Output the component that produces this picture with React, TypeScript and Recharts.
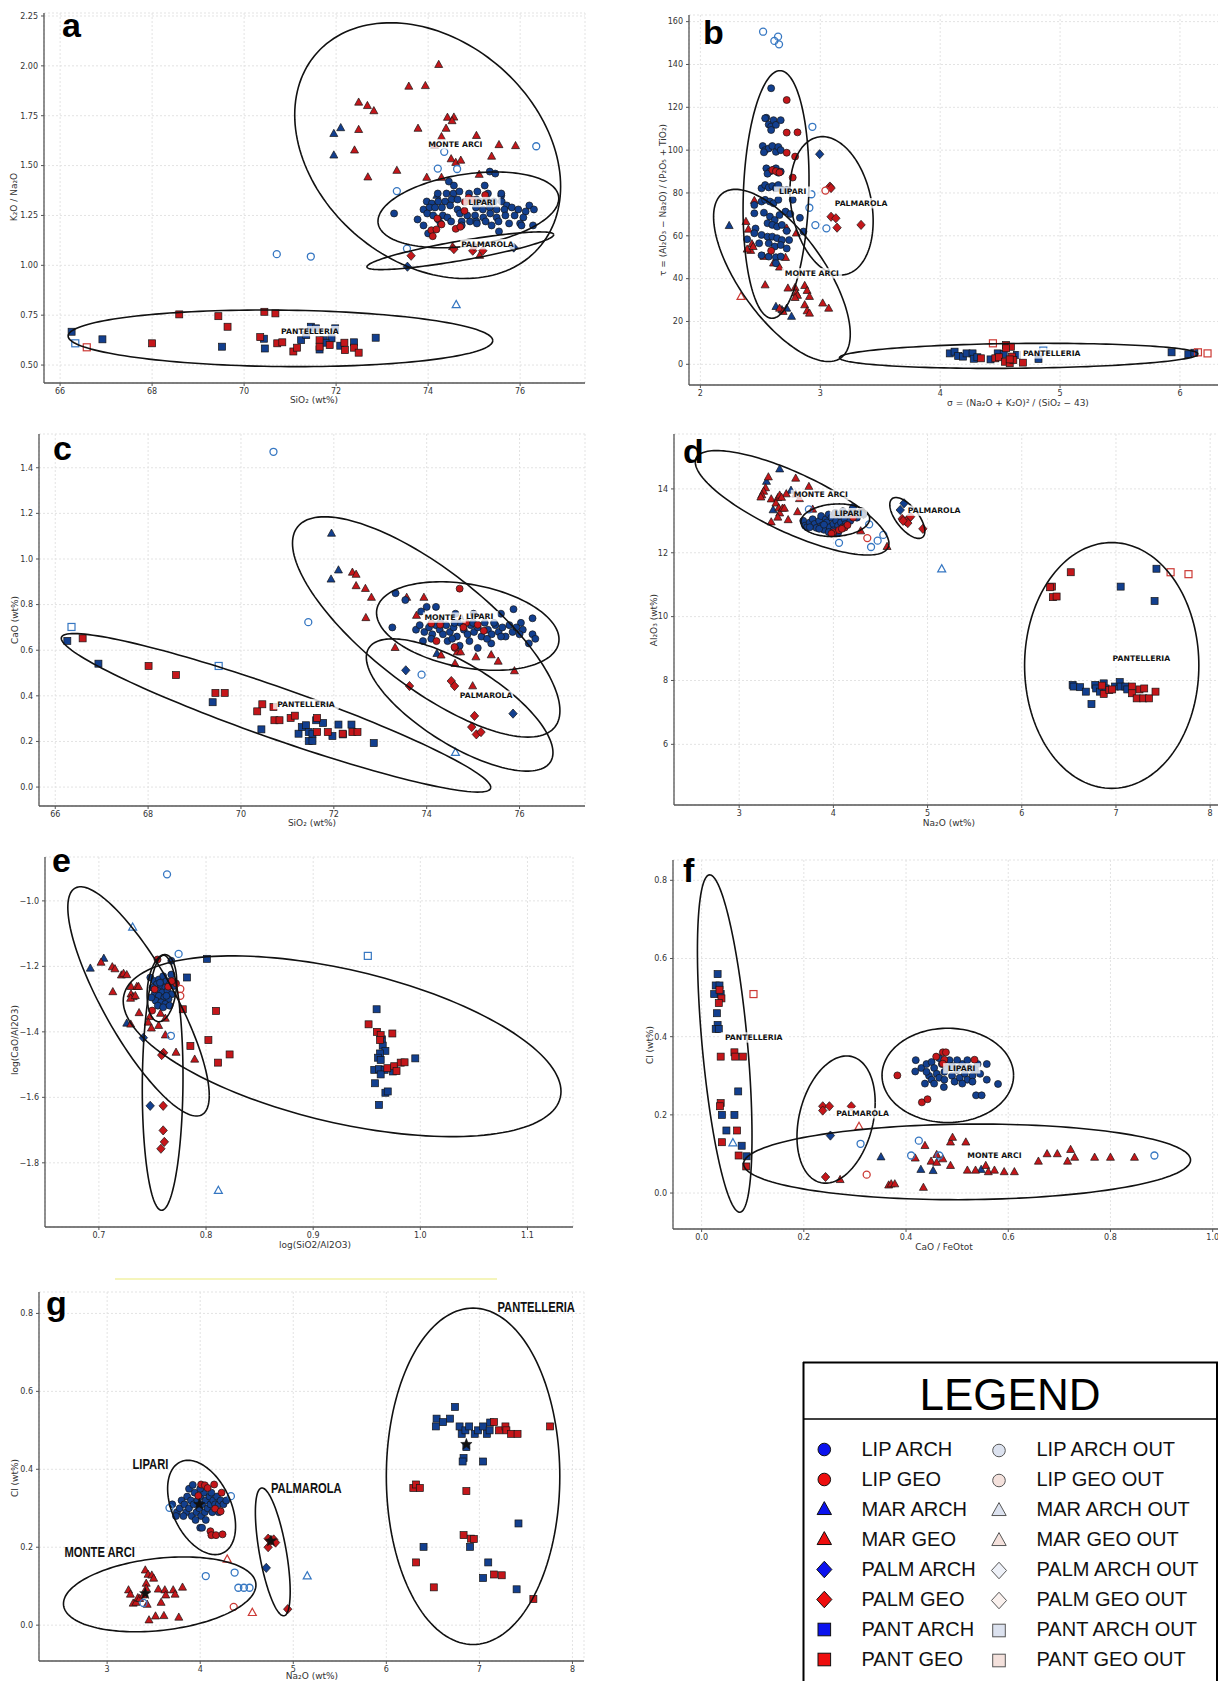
import React from "react";
import { ScatterChart, Scatter, XAxis, YAxis, CartesianGrid } from "recharts";

type Pt = [number, number];
type Ell = [number, number, number, number, number]; // cx, cy, half-width, half-height, sin(phase)
type Lab = [number, number, string, number?];

// ---------- panel a : K2O/Na2O vs SiO2
const aLipArch: Pt[] = [
  [73.26, 1.26], [74.45, 1.42], [74.56, 1.4], [75.23, 1.4], [75.34, 1.47], [75.46, 1.46], [75.59, 1.35],
  [74.21, 1.36], [74.4, 1.36], [74.55, 1.36], [74.68, 1.37], [74.89, 1.36], [75.07, 1.37], [75.3, 1.36], [75.59, 1.36],
  [73.97, 1.32], [74.08, 1.31], [74.22, 1.32], [74.37, 1.32], [74.51, 1.33], [74.64, 1.33], [75.05, 1.33], [75.13, 1.32],
  [75.27, 1.33], [75.43, 1.32], [75.6, 1.32], [75.71, 1.3], [76.2, 1.3], [73.9, 1.28], [74.03, 1.29], [74.15, 1.29],
  [74.3, 1.29], [74.48, 1.3], [74.64, 1.28], [75.04, 1.29], [75.19, 1.28], [75.34, 1.29], [75.49, 1.28], [75.66, 1.28],
  [75.82, 1.29], [75.96, 1.28], [76.12, 1.27], [76.3, 1.28], [73.77, 1.23], [73.98, 1.26], [74.11, 1.25], [74.32, 1.25],
  [74.42, 1.24], [74.69, 1.26], [74.85, 1.25], [75.02, 1.25], [75.2, 1.24], [75.35, 1.26], [75.49, 1.24], [75.68, 1.25],
  [75.88, 1.25], [76.07, 1.24], [76.0, 1.21], [73.9, 1.2], [74.22, 1.23], [74.5, 1.22], [74.73, 1.22], [74.91, 1.22],
  [75.05, 1.22], [75.25, 1.22], [75.53, 1.22], [75.76, 1.21], [76.03, 1.2], [76.28, 1.2], [74.27, 1.21], [74.73, 1.2],
  [75.06, 1.21], [75.38, 1.2], [75.54, 1.17], [74.0, 1.16],
];
const aLipGeo: Pt[] = [
  [74.2, 1.235], [74.07, 1.176], [74.18, 1.18], [74.1, 1.146], [74.29, 1.205], [74.6, 1.183], [74.7, 1.193],
  [74.8, 1.318], [74.79, 1.273], [74.88, 1.339], [75.24, 1.352], [74.97, 1.327],
];
const aMarArch: Pt[] = [[71.95, 1.66], [72.1, 1.689], [71.95, 1.552], [74.19, 1.35]];
const aMarGeo: Pt[] = [
  [72.49, 1.817], [72.68, 1.8], [72.82, 1.774], [72.49, 1.68], [72.4, 1.577], [72.69, 1.442], [73.58, 1.897],
  [73.94, 1.9], [74.23, 2.006], [73.78, 1.686], [74.42, 1.741], [74.56, 1.742], [74.52, 1.724], [74.39, 1.686],
  [74.29, 1.644], [75.05, 1.65], [75.54, 1.604], [75.9, 1.599], [75.38, 1.546], [74.5, 1.533], [74.6, 1.515],
  [74.71, 1.526], [73.32, 1.475], [73.97, 1.44], [74.29, 1.44], [75.11, 1.455], [74.14, 1.6], [74.53, 1.093], [75.12, 1.049],
];
const aPalmArch: Pt[] = [[73.55, 0.993], [75.86, 1.089]];
const aPalmGeo: Pt[] = [[73.63, 1.048], [74.56, 1.081], [74.97, 1.073], [75.19, 1.073], [75.0, 1.096]];
const aPantArch: Pt[] = [
  [66.25, 0.667], [66.92, 0.629], [69.52, 0.592], [70.43, 0.632], [70.45, 0.583], [71.24, 0.625], [71.35, 0.65],
  [71.45, 0.692], [71.56, 0.684], [71.73, 0.625], [71.9, 0.634], [71.98, 0.684], [71.64, 0.578], [72.09, 0.597],
  [72.39, 0.614], [72.86, 0.637], [71.77, 0.612],
];
const aPantGeo: Pt[] = [
  [68.59, 0.754], [69.44, 0.745], [69.64, 0.692], [68.0, 0.609], [70.44, 0.767], [70.68, 0.759], [70.35, 0.64],
  [70.72, 0.609], [70.83, 0.614], [71.07, 0.568], [71.15, 0.587], [71.64, 0.625], [71.64, 0.592], [71.86, 0.6],
  [72.18, 0.612], [72.19, 0.575], [72.39, 0.587], [72.49, 0.562],
];
const aLipArchOut: Pt[] = [
  [70.71, 1.056], [71.45, 1.044], [73.32, 1.372], [74.21, 1.485], [74.63, 1.483], [74.35, 1.569], [76.35, 1.597], [73.54, 1.084],
];
const aMarArchOut: Pt[] = [[74.61, 0.802]];
const aPantArchOut: Pt[] = [[66.33, 0.609]];
const aPantGeoOut: Pt[] = [[66.58, 0.589]];
const aEllipses: Ell[] = [
  [73.99, 1.575, 2.89, 0.641, -0.28],
  [74.875, 1.278, 1.965, 0.19, 0.3],
  [74.7, 1.073, 2.03, 0.0945, 0.85],
  [70.79, 0.634, 4.615, 0.142, -0.08],
];
const aLabels: Lab[] = [
  [74.59, 1.607, "MONTE ARCI"], [75.17, 1.317, "LIPARI"], [75.29, 1.106, "PALMAROLA"], [71.43, 0.67, "PANTELLERIA"],
];

// ---------- panel b : tau vs sigma
const bLipArch: Pt[] = [
  [2.59, 128.9], [2.55, 115.1], [2.54, 114.9], [2.57, 112], [2.59, 111], [2.61, 114], [2.63, 111.8], [2.67, 114], [2.59, 109.4],
  [2.52, 101.9], [2.54, 100], [2.57, 100.8], [2.6, 101.9], [2.63, 99.2], [2.65, 101.5], [2.67, 100], [2.53, 99],
  [2.55, 91.5], [2.58, 90], [2.61, 90.8], [2.63, 91.5], [2.65, 89.5], [2.67, 90], [2.56, 89],
  [2.51, 82.2], [2.54, 83.7], [2.57, 82.6], [2.6, 83.2], [2.63, 82.2], [2.65, 83.7], [2.68, 81.4], [2.72, 81.4],
  [2.51, 76], [2.54, 76.8], [2.58, 76], [2.61, 75.2], [2.65, 76.8], [2.77, 76.8], [2.45, 74.4],
  [2.45, 70.5], [2.53, 70.8], [2.58, 69], [2.62, 67.4], [2.66, 69.7], [2.71, 71.3], [2.56, 65.9], [2.6, 65.1],
  [2.64, 64.3], [2.68, 65.1], [2.75, 70.2], [2.83, 68.4], [2.86, 62.0], [2.46, 63.4], [2.51, 60.4], [2.56, 59.6],
  [2.6, 59.6], [2.64, 58.9], [2.68, 58], [2.39, 58.4], [2.45, 61.2], [2.49, 56.5], [2.57, 56.5], [2.62, 55],
  [2.67, 55.7], [2.72, 54.1], [2.74, 58], [2.51, 50.9], [2.57, 50.3], [2.63, 50], [2.67, 50.3], [2.63, 47.2], [2.72, 62.3],
];
const bLipGeo: Pt[] = [
  [2.72, 123.4], [2.72, 108.2], [2.81, 108.3], [2.72, 98.8], [2.79, 97.0], [2.6, 90.7], [2.63, 90.2], [2.66, 89.6], [2.77, 87.2], [2.59, 53.0],
];
const bMarArch: Pt[] = [[2.24, 64.7], [2.63, 26.9], [2.72, 26.1], [2.76, 22.3], [2.68, 25.4]];
const bMarGeo: Pt[] = [
  [2.38, 66.6], [2.4, 63.0], [2.45, 76.4], [2.43, 56.2], [2.42, 53.1], [2.39, 53.7], [2.44, 54.9], [2.53, 50.3],
  [2.61, 47.2], [2.66, 45.3], [2.71, 49.8], [2.72, 63.5], [2.54, 37.0], [2.73, 35.5], [2.79, 35.8], [2.8, 33.2],
  [2.81, 32.1], [2.79, 31.1], [2.87, 36.7], [2.89, 34.4], [2.91, 31.6], [2.87, 27.7], [3.02, 28.5], [3.07, 26.1],
  [2.89, 24.9], [2.91, 23.8], [2.66, 26.1], [2.69, 24.6], [2.8, 61.2],
];
const bPalmArch: Pt[] = [[2.995, 98.1]];
const bPalmGeo: Pt[] = [[3.08, 83.0], [3.09, 82.3], [3.09, 68.9], [3.13, 68.2], [3.14, 63.8], [3.34, 65.1]];
const bPantArch: Pt[] = [
  [4.08, 5.1], [4.12, 5.9], [4.15, 3.9], [4.19, 3.6], [4.22, 5.1], [4.27, 5.1], [4.28, 2.6], [4.31, 3.3], [4.42, 2.3],
  [4.48, 5.1], [4.53, 4.8], [4.64, 4.4], [4.82, 2.5], [5.93, 5.6], [6.07, 4.7], [6.12, 5.4],
];
const bPantGeo: Pt[] = [
  [4.34, 2.8], [4.46, 2.8], [4.49, 3.3], [4.54, 1.2], [4.58, 0.5], [4.55, 9.0], [4.59, 8.2], [4.55, 7.5], [4.6, 3.6],
  [4.61, 2.0], [4.69, 0.8], [4.58, 2.3],
];
const bLipArchOut: Pt[] = [
  [2.523, 155.3], [2.648, 153.0], [2.617, 151.0], [2.656, 149.4], [2.934, 110.9], [2.926, 79.4], [2.909, 73.1], [2.959, 65.0], [3.051, 63.5],
];
const bLipGeoOut: Pt[] = [[3.043, 81.1]];
const bMarGeoOut: Pt[] = [[2.339, 31.6]];
const bPantArchOut: Pt[] = [[4.86, 6.4]];
const bPantGeoOut: Pt[] = [[4.44, 9.8], [6.15, 5.6], [6.23, 5.1]];
const bEllipses: Ell[] = [
  [2.631, 79.3, 0.275, 57.8, 0.12],
  [2.68, 41.5, 0.57, 40.2, -0.68],
  [3.094, 74.0, 0.347, 32.3, -0.22],
  [4.655, 3.95, 1.495, 5.85, 0.15],
];
const bLabels: Lab[] = [
  [2.77, 80.6, "LIPARI"], [3.34, 75.2, "PALMAROLA"], [2.93, 42.5, "MONTE ARCI"], [4.93, 5.1, "PANTELLERIA"],
];

// ---------- panel c : CaO vs SiO2
const cLipArch: Pt[] = [
  [73.33, 0.85], [73.54, 0.82], [74.0, 0.79], [74.2, 0.79], [73.88, 0.77], [74.62, 0.76], [75.01, 0.76], [75.6, 0.76],
  [75.87, 0.78], [76.28, 0.74], [76.03, 0.72], [76.07, 0.69], [76.28, 0.67], [76.34, 0.65], [76.2, 0.63], [75.39, 0.63],
  [75.1, 0.61], [74.71, 0.62], [74.92, 0.64], [73.26, 0.7], [73.77, 0.69], [73.92, 0.64], [74.45, 0.64],
  [73.85, 0.71], [73.95, 0.68], [74.05, 0.7], [74.12, 0.67], [74.2, 0.71], [74.28, 0.69], [74.35, 0.67], [74.42, 0.71],
  [74.5, 0.68], [74.58, 0.7], [74.65, 0.66], [74.72, 0.72], [74.8, 0.69], [74.88, 0.67], [74.95, 0.71], [75.02, 0.68],
  [75.1, 0.7], [75.18, 0.66], [75.25, 0.72], [75.32, 0.69], [75.4, 0.67], [75.48, 0.71], [75.55, 0.68], [75.63, 0.7],
  [75.7, 0.66], [75.78, 0.71], [75.85, 0.68], [75.93, 0.7], [76.0, 0.67], [74.3, 0.72], [74.6, 0.72], [75.0, 0.72],
  [75.45, 0.72], [74.1, 0.65], [74.55, 0.65], [75.3, 0.65], [75.6, 0.66],
];
const cLipGeo: Pt[] = [
  [74.71, 0.87], [74.61, 0.61], [74.21, 0.64], [74.1, 0.717], [74.29, 0.712], [74.85, 0.72], [74.79, 0.7], [75.1, 0.712],
  [75.23, 0.685], [74.6, 0.614],
];
const cMarArch: Pt[] = [[71.95, 1.112], [72.1, 0.951], [71.94, 0.911], [74.22, 0.585]];
const cMarGeo: Pt[] = [
  [72.4, 0.941], [72.48, 0.932], [72.48, 0.882], [72.68, 0.87], [72.81, 0.831], [72.69, 0.742], [73.32, 0.611],
  [73.57, 0.831], [73.94, 0.831], [73.78, 0.752], [74.31, 0.578], [74.61, 0.541], [74.66, 0.592], [74.73, 0.592],
  [75.06, 0.57], [75.39, 0.579], [75.54, 0.551], [75.89, 0.509], [74.99, 0.443],
];
const cPalmArch: Pt[] = [[73.55, 0.512], [75.86, 0.322]];
const cPalmGeo: Pt[] = [[73.63, 0.443], [74.53, 0.465], [74.6, 0.443], [75.03, 0.312], [74.97, 0.263], [75.07, 0.231], [75.17, 0.241]];
const cPantArch: Pt[] = [
  [66.26, 0.641], [66.93, 0.541], [69.39, 0.372], [70.44, 0.253], [71.24, 0.234], [71.31, 0.263], [71.4, 0.271],
  [71.46, 0.241], [71.46, 0.202], [71.54, 0.202], [71.54, 0.234], [71.62, 0.293], [71.77, 0.281], [71.97, 0.224],
  [72.1, 0.274], [72.38, 0.274], [72.86, 0.193], [72.2, 0.231],
];
const cPantGeo: Pt[] = [
  [66.59, 0.652], [68.01, 0.531], [68.6, 0.491], [69.45, 0.413], [69.65, 0.413], [70.35, 0.332], [70.46, 0.363],
  [70.7, 0.351], [70.72, 0.293], [70.83, 0.293], [71.07, 0.303], [71.16, 0.313], [71.64, 0.303], [71.64, 0.241],
  [71.87, 0.241], [72.19, 0.234], [72.4, 0.241], [72.51, 0.241],
];
const cLipArchOut: Pt[] = [[70.7, 1.47], [71.45, 0.723], [73.89, 0.493]];
const cMarArchOut: Pt[] = [[74.62, 0.151]];
const cPantArchOut: Pt[] = [[66.35, 0.702], [69.52, 0.531]];
const cEllipses: Ell[] = [
  [70.755, 0.3255, 4.625, 0.3475, -0.94],
  [73.99, 0.702, 2.88, 0.483, -0.76],
  [74.885, 0.706, 1.965, 0.194, -0.3],
  [74.71, 0.36, 2.01, 0.29, -0.72],
];
const cLabels: Lab[] = [
  [74.38, 0.743, "MONTE A"], [75.14, 0.749, "LIPARI"], [75.28, 0.4, "PALMAROLA"], [71.4, 0.364, "PANTELLERIA"],
];

// ---------- panel d : Al2O3 vs Na2O
const dLipArch: Pt[] = [
  [3.68, 13.0], [3.7, 12.85], [3.72, 12.8], [3.75, 12.95], [3.78, 13.05], [3.8, 12.9], [3.82, 12.78], [3.85, 13.0],
  [3.87, 13.15], [3.88, 12.85], [3.9, 12.72], [3.92, 13.05], [3.93, 12.95], [3.95, 13.2], [3.96, 12.8], [3.98, 13.1],
  [4.0, 12.9], [4.0, 12.7], [4.02, 13.25], [4.03, 13.0], [4.05, 12.85], [4.07, 13.15], [4.08, 12.95], [4.1, 13.3],
  [4.12, 13.05], [4.13, 12.9], [4.15, 13.2], [4.18, 13.0], [4.2, 13.35], [4.22, 13.15], [4.25, 13.1], [4.28, 13.25],
  [4.3, 13.3], [4.32, 13.2], [3.95, 12.65], [3.85, 12.75], [4.05, 12.62], [3.9, 12.88], [4.1, 12.8], [3.75, 12.8],
  [4.21, 13.43], [4.32, 13.24],
];
const dLipGeo: Pt[] = [[4.0, 12.64], [4.06, 12.71], [4.12, 12.79], [4.15, 12.87], [4.21, 13.1], [3.98, 12.6], [4.09, 12.75]];
const dMarArch: Pt[] = [[3.43, 14.62], [3.29, 14.23], [3.36, 13.34], [3.55, 13.95]];
const dMarGeo: Pt[] = [
  [3.31, 14.37], [3.6, 14.33], [3.74, 14.07], [3.28, 14.03], [3.26, 13.92], [3.24, 13.81], [3.23, 13.74], [3.34, 13.68],
  [3.41, 13.72], [3.43, 13.8], [3.5, 13.84], [3.45, 13.73], [3.39, 13.55], [3.42, 13.4], [3.43, 13.24], [3.46, 13.39],
  [3.48, 13.39], [3.41, 13.11], [3.52, 13.03], [3.34, 12.96], [3.62, 13.28], [3.6, 13.83], [3.78, 13.36], [4.29, 12.68],
  [4.57, 12.19], [3.64, 13.69],
];
const dPalmArch: Pt[] = [[4.75, 13.55], [4.71, 13.34]];
const dPalmGeo: Pt[] = [[4.73, 13.06], [4.77, 12.98], [4.8, 13.08], [4.82, 13.13], [4.79, 12.93], [4.74, 13.0], [4.95, 12.75]];
const dPantArch: Pt[] = [
  [6.54, 7.86], [6.55, 7.81], [6.62, 7.79], [6.68, 7.65], [6.74, 7.26], [6.78, 7.86], [6.79, 7.75], [6.83, 7.65],
  [6.87, 7.91], [6.89, 7.75], [6.99, 7.81], [7.04, 7.95], [7.05, 7.81], [7.1, 7.81], [7.12, 7.72], [7.05, 10.94],
  [7.43, 11.5], [7.41, 10.49],
];
const dPantGeo: Pt[] = [
  [6.32, 10.94], [6.3, 10.92], [6.52, 11.39], [6.33, 10.61], [6.37, 10.63], [6.85, 7.84], [6.87, 7.58], [6.93, 7.7],
  [6.96, 7.72], [7.17, 7.81], [7.17, 7.6], [7.22, 7.44], [7.25, 7.72], [7.3, 7.75], [7.29, 7.44], [7.35, 7.44], [7.42, 7.65],
];
const dLipArchOut: Pt[] = [[3.74, 13.36], [4.06, 12.31], [4.38, 12.89], [4.4, 12.18], [4.47, 12.38], [4.53, 12.56]];
const dLipGeoOut: Pt[] = [[4.36, 12.46]];
const dMarArchOut: Pt[] = [[5.15, 11.49]];
const dPantGeoOut: Pt[] = [[7.58, 11.39], [7.77, 11.33]];
const dEllipses: Ell[] = [
  [3.562, 13.565, 1.028, 1.635, -0.78],
  [4.02, 13.02, 0.365, 0.51, 0.1],
  [4.785, 13.09, 0.186, 0.64, -0.65],
  [6.955, 8.47, 0.925, 3.85, 0],
];
const dLabels: Lab[] = [
  [3.866, 13.81, "MONTE ARCI"], [4.16, 13.24, "LIPARI"], [5.07, 13.32, "PALMAROLA"], [7.27, 8.7, "PANTELLERIA"],
];

// ---------- panel e : log(CaO/Al2O3) vs log(SiO2/Al2O3)
const eLipArch: Pt[] = [
  [0.7676, -1.183], [0.7676, -1.225], [0.748, -1.234], [0.752, -1.245], [0.756, -1.24], [0.76, -1.23], [0.763, -1.245],
  [0.766, -1.255], [0.754, -1.255], [0.758, -1.26], [0.762, -1.265], [0.75, -1.265], [0.755, -1.275], [0.759, -1.28],
  [0.764, -1.275], [0.768, -1.285], [0.752, -1.285], [0.756, -1.29], [0.761, -1.295], [0.765, -1.3], [0.753, -1.305],
  [0.758, -1.31], [0.762, -1.315], [0.755, -1.32], [0.76, -1.325], [0.766, -1.32], [0.749, -1.295], [0.77, -1.26],
  [0.757, -1.25], [0.763, -1.29],
];
const eLipGeo: Pt[] = [[0.7547, -1.179], [0.752, -1.27], [0.7647, -1.262], [0.772, -1.252], [0.7497, -1.335], [0.768, -1.245]];
const eMarArch: Pt[] = [[0.692, -1.206], [0.7046, -1.176], [0.726, -1.374]];
const eMarGeo: Pt[] = [
  [0.702, -1.188], [0.7125, -1.202], [0.715, -1.208], [0.721, -1.227], [0.723, -1.222], [0.726, -1.226], [0.713, -1.278],
  [0.73, -1.262], [0.7354, -1.262], [0.737, -1.262], [0.73, -1.285], [0.732, -1.293], [0.7296, -1.298], [0.734, -1.29],
  [0.7297, -1.377], [0.7375, -1.342], [0.7475, -1.354], [0.746, -1.371], [0.749, -1.389], [0.7558, -1.381],
  [0.7575, -1.344], [0.762, -1.359], [0.762, -1.41], [0.772, -1.463], [0.7894, -1.484],
];
const ePalmArch: Pt[] = [[0.7415, -1.418], [0.7479, -1.626]];
const ePalmGeo: Pt[] = [[0.7604, -1.464], [0.7586, -1.471], [0.76, -1.626], [0.76, -1.701], [0.7611, -1.736], [0.7579, -1.757]];
const ePantArch: Pt[] = [
  [0.8008, -1.177], [0.7822, -1.234], [0.9592, -1.331], [0.9642, -1.423], [0.9649, -1.442], [0.9674, -1.458],
  [0.9624, -1.466], [0.9606, -1.479], [0.963, -1.486], [0.957, -1.516], [0.9614, -1.514], [0.9667, -1.516],
  [0.963, -1.53], [0.9745, -1.521], [0.9577, -1.557], [0.9674, -1.586], [0.9696, -1.582], [0.9614, -1.623], [0.9953, -1.481],
];
const ePantGeo: Pt[] = [
  [0.7783, -1.331], [0.8094, -1.336], [0.8022, -1.425], [0.7854, -1.443], [0.8112, -1.494], [0.822, -1.469],
  [0.9517, -1.377], [0.9595, -1.4], [0.963, -1.41], [0.9624, -1.425], [0.9739, -1.405], [0.9692, -1.511],
  [0.9756, -1.505], [0.9778, -1.52], [0.9817, -1.494], [0.9853, -1.493],
];
const eLipArchOut: Pt[] = [[0.7636, -0.919], [0.7744, -1.162], [0.7672, -1.412]];
const eLipGeoOut: Pt[] = [[0.776, -1.269], [0.776, -1.29]];
const eMarArchOut: Pt[] = [[0.7315, -1.081], [0.8115, -1.885]];
const ePantArchOut: Pt[] = [[0.951, -1.168]];
const eEllipses: Ell[] = [
  [0.737, -1.307, 0.066, 0.35, -0.82],
  [0.7595, -1.5555, 0.019, 0.3895, 0.05],
  [0.7588, -1.2665, 0.0138, 0.1025, 0.2],
  [0.927, -1.444, 0.2043, 0.276, -0.5],
];

// ---------- panel f : Cl vs CaO/FeOtot
const fLipArch: Pt[] = [
  [0.419, 0.34], [0.418, 0.311], [0.437, 0.28], [0.474, 0.271], [0.58, 0.279], [0.558, 0.33], [0.537, 0.25], [0.548, 0.25],
  [0.558, 0.29], [0.43, 0.32], [0.44, 0.33], [0.45, 0.335], [0.455, 0.32], [0.46, 0.305], [0.47, 0.33], [0.445, 0.3],
  [0.45, 0.29], [0.465, 0.295], [0.475, 0.31], [0.48, 0.32], [0.49, 0.3], [0.495, 0.285], [0.5, 0.315], [0.505, 0.295],
  [0.51, 0.33], [0.515, 0.305], [0.52, 0.29], [0.525, 0.32], [0.53, 0.3], [0.535, 0.315], [0.54, 0.33], [0.545, 0.305],
  [0.485, 0.34], [0.465, 0.345], [0.5, 0.34], [0.44, 0.31], [0.455, 0.28], [0.51, 0.28], [0.52, 0.34], [0.49, 0.325],
  [0.475, 0.29], [0.53, 0.285],
];
const fLipGeo: Pt[] = [[0.383, 0.301], [0.431, 0.232], [0.442, 0.24], [0.459, 0.349], [0.472, 0.36], [0.478, 0.36], [0.475, 0.341], [0.472, 0.331], [0.534, 0.341]];
const fMarArch: Pt[] = [[0.351, 0.092], [0.429, 0.06], [0.453, 0.057], [0.547, 0.06]];
const fMarGeo: Pt[] = [
  [0.271, 0.034], [0.366, 0.02], [0.371, 0.023], [0.378, 0.023], [0.434, 0.014], [0.418, 0.089], [0.437, 0.121],
  [0.449, 0.081], [0.46, 0.078], [0.46, 0.098], [0.472, 0.087], [0.487, 0.07], [0.487, 0.13], [0.491, 0.142],
  [0.517, 0.13], [0.52, 0.058], [0.536, 0.058], [0.556, 0.07], [0.561, 0.054], [0.573, 0.058], [0.592, 0.054],
  [0.612, 0.054], [0.659, 0.081], [0.676, 0.1], [0.696, 0.1], [0.716, 0.081], [0.722, 0.111], [0.73, 0.091],
  [0.769, 0.091], [0.8, 0.091], [0.847, 0.091],
];
const fPalmArch: Pt[] = [[0.252, 0.147]];
const fPalmGeo: Pt[] = [[0.237, 0.222], [0.25, 0.222], [0.237, 0.211], [0.293, 0.222], [0.2425, 0.041]];
const fPantArch: Pt[] = [
  [0.0313, 0.56], [0.0276, 0.531], [0.035, 0.531], [0.0246, 0.509], [0.0373, 0.509], [0.0299, 0.46], [0.0313, 0.43],
  [0.0276, 0.42], [0.0336, 0.42], [0.0716, 0.26], [0.0396, 0.2], [0.0642, 0.2], [0.0485, 0.16], [0.0784, 0.121], [0.0881, 0.094],
];
const fPantGeo: Pt[] = [
  [0.035, 0.52], [0.0388, 0.498], [0.0336, 0.486], [0.0373, 0.349], [0.0642, 0.36], [0.0657, 0.349], [0.0806, 0.349],
  [0.0373, 0.23], [0.0358, 0.222], [0.0396, 0.13], [0.0694, 0.16], [0.0724, 0.096], [0.0873, 0.068],
];
const fLipArchOut: Pt[] = [[0.311, 0.126], [0.425, 0.134], [0.41, 0.096], [0.465, 0.096], [0.886, 0.096]];
const fLipGeoOut: Pt[] = [[0.323, 0.047]];
const fMarArchOut: Pt[] = [[0.0612, 0.128]];
const fMarGeoOut: Pt[] = [[0.308, 0.17]];
const fPantGeoOut: Pt[] = [[0.1015, 0.509]];
const fEllipses: Ell[] = [
  [0.0452, 0.3825, 0.0534, 0.4315, -0.55],
  [0.2631, 0.188, 0.0765, 0.1627, 0.27],
  [0.4817, 0.301, 0.1287, 0.1205, 0],
  [0.5194, 0.0797, 0.4373, 0.0967, 0.05],
];
const fLabels: Lab[] = [
  [0.102, 0.398, "PANTELLERIA"], [0.315, 0.204, "PALMAROLA"], [0.509, 0.319, "LIPARI"], [0.573, 0.096, "MONTE ARCI"],
];

// ---------- panel g : Cl vs Na2O
const gLipArch: Pt[] = [
  [3.7, 0.31], [3.75, 0.29], [3.74, 0.28], [3.78, 0.3], [3.8, 0.32], [3.83, 0.31], [3.85, 0.29], [3.86, 0.33], [3.88, 0.3],
  [3.9, 0.32], [3.91, 0.28], [3.93, 0.31], [3.94, 0.34], [3.96, 0.29], [3.97, 0.32], [3.99, 0.3], [4.0, 0.33], [4.01, 0.28],
  [4.02, 0.31], [4.04, 0.34], [4.05, 0.29], [4.06, 0.32], [4.08, 0.3], [4.1, 0.33], [4.11, 0.31], [4.13, 0.29], [4.14, 0.32],
  [4.16, 0.31], [4.18, 0.33], [4.2, 0.31], [4.22, 0.32], [4.25, 0.31], [4.28, 0.32], [3.95, 0.27], [4.0, 0.25], [4.02, 0.25],
  [3.88, 0.35], [4.0, 0.35], [4.06, 0.27], [3.82, 0.28], [3.92, 0.36], [4.12, 0.34], [4.2, 0.29],
];
const gLipGeo: Pt[] = [
  [4.01, 0.361], [4.05, 0.359], [4.15, 0.361], [4.23, 0.34], [4.08, 0.352], [3.98, 0.332], [4.16, 0.299], [4.22, 0.292],
  [4.11, 0.241], [4.12, 0.231], [4.17, 0.231], [4.24, 0.233],
];
const gMarGeo: Pt[] = [
  [3.23, 0.09], [3.25, 0.079], [3.28, 0.056], [3.31, 0.058], [3.33, 0.07], [3.35, 0.068], [3.39, 0.077], [3.41, 0.141],
  [3.44, 0.13], [3.48, 0.128], [3.5, 0.12], [3.42, 0.107], [3.42, 0.094], [3.43, 0.053], [3.45, 0.013], [3.52, 0.023],
  [3.55, 0.092], [3.58, 0.058], [3.61, 0.024], [3.62, 0.09], [3.63, 0.077], [3.71, 0.09], [3.73, 0.079], [3.77, 0.02], [3.81, 0.097],
];
const gPalmArch: Pt[] = [[4.71, 0.147]];
const gPalmGeo: Pt[] = [[4.73, 0.222], [4.76, 0.217], [4.79, 0.22], [4.81, 0.212], [4.73, 0.2], [4.94, 0.041]];
const gPantArch: Pt[] = [
  [6.532, 0.51], [6.54, 0.53], [6.61, 0.521], [6.684, 0.53], [6.738, 0.56], [6.787, 0.51], [6.81, 0.491], [6.85, 0.5],
  [6.89, 0.51], [6.95, 0.491], [6.985, 0.5], [7.04, 0.51], [7.08, 0.491], [7.11, 0.5], [7.116, 0.52], [6.83, 0.429],
  [6.82, 0.42], [7.04, 0.42], [6.86, 0.457], [6.4, 0.201], [6.9, 0.201], [7.095, 0.161], [7.04, 0.121], [7.42, 0.261], [7.4, 0.092],
];
const gPantGeo: Pt[] = [
  [7.157, 0.521], [7.21, 0.5], [7.28, 0.51], [7.29, 0.5], [7.34, 0.491], [7.41, 0.491], [7.76, 0.51], [6.29, 0.352],
  [6.32, 0.361], [6.36, 0.352], [6.86, 0.344], [6.83, 0.231], [6.91, 0.222], [6.94, 0.221], [6.32, 0.161], [6.51, 0.097],
  [7.157, 0.13], [7.24, 0.128], [7.58, 0.067],
];
const gLipArchOut: Pt[] = [[3.67, 0.301], [4.33, 0.331], [4.06, 0.126], [4.37, 0.135], [4.41, 0.096], [4.47, 0.096], [4.53, 0.096], [3.39, 0.057]];
const gLipGeoOut: Pt[] = [[4.36, 0.047]];
const gMarArchOut: Pt[] = [[5.15, 0.126]];
const gMarGeoOut: Pt[] = [[4.29, 0.169], [4.56, 0.032]];
const gMeans: Pt[] = [[6.86, 0.464], [3.99, 0.31], [4.76, 0.216], [3.41, 0.081]];
const gEllipses: Ell[] = [
  [6.932, 0.382, 0.932, 0.4316, 0],
  [4.015, 0.302, 0.365, 0.121, -0.4],
  [4.78, 0.188, 0.187, 0.164, -0.62],
  [3.565, 0.079, 1.034, 0.096, 0.25],
];
const gLabels: Lab[] = [
  [7.61, 0.816, "PANTELLERIA", 1], [3.465, 0.412, "LIPARI", 1], [5.14, 0.35, "PALMAROLA", 1], [2.92, 0.186, "MONTE ARCI", 1],
];

// ---------- legend
const legendLeft = ["LIP ARCH", "LIP GEO", "MAR ARCH", "MAR GEO", "PALM ARCH", "PALM GEO", "PANT ARCH", "PANT GEO"];
const legendRight = legendLeft.map((s) => s + " OUT");

// ---------- styles
const NAVY = "#123f8f";
const RED = "#c5161a";
const OUT_BLUE = "#3677c2";
const OUT_RED = "#cc3a35";

type Shape = "circle" | "triangle" | "diamond" | "square" | "star";
const STY: Record<string, [Shape, string, string, number]> = {
  lipArch: ["circle", NAVY, "#161616", 0.7],
  lipGeo: ["circle", RED, "#161616", 0.7],
  marArch: ["triangle", NAVY, "#161616", 0.7],
  marGeo: ["triangle", RED, "#161616", 0.7],
  palmArch: ["diamond", NAVY, "#161616", 0.7],
  palmGeo: ["diamond", RED, "#161616", 0.7],
  pantArch: ["square", NAVY, "#161616", 0.7],
  pantGeo: ["square", RED, "#161616", 0.7],
  lipArchOut: ["circle", "none", OUT_BLUE, 1.3],
  lipGeoOut: ["circle", "none", OUT_RED, 1.3],
  marArchOut: ["triangle", "none", OUT_BLUE, 1.2],
  marGeoOut: ["triangle", "none", OUT_RED, 1.2],
  pantArchOut: ["square", "none", OUT_BLUE, 1.2],
  pantGeoOut: ["square", "none", OUT_RED, 1.2],
  mean: ["star", "#111", "#111", 0.5],
};

function glyph(shape: Shape, cx: number, cy: number, fill: string, stroke: string, sw: number, k = 1) {
  if (shape === "circle") return <circle cx={cx} cy={cy} r={3.5 * k} fill={fill} stroke={stroke} strokeWidth={sw} />;
  if (shape === "square")
    return <rect x={cx - 3.5 * k} y={cy - 3.5 * k} width={7 * k} height={7 * k} fill={fill} stroke={stroke} strokeWidth={sw} />;
  if (shape === "triangle") {
    const p = `${cx},${cy - 4.4 * k} ${cx + 4 * k},${cy + 2.8 * k} ${cx - 4 * k},${cy + 2.8 * k}`;
    return <polygon points={p} fill={fill} stroke={stroke} strokeWidth={sw} />;
  }
  if (shape === "diamond") {
    const p = `${cx},${cy - 4.6 * k} ${cx + 4.2 * k},${cy} ${cx},${cy + 4.6 * k} ${cx - 4.2 * k},${cy}`;
    return <polygon points={p} fill={fill} stroke={stroke} strokeWidth={sw} />;
  }
  const pts: string[] = [];
  for (let i = 0; i < 10; i++) {
    const r = i % 2 === 0 ? 6 * k : 2.5 * k;
    const a = -Math.PI / 2 + (i * Math.PI) / 5;
    pts.push(`${cx + r * Math.cos(a)},${cy + r * Math.sin(a)}`);
  }
  return <polygon points={pts.join(" ")} fill={fill} stroke={stroke} strokeWidth={sw} />;
}

function markerShape(kind: string) {
  const [shape, fill, stroke, sw] = STY[kind];
  return (p: any) => {
    if (p.cx == null || p.cy == null) return <g />;
    return glyph(shape, p.cx, p.cy, fill, stroke, sw);
  };
}

function labelShape(p: any) {
  const { cx, cy, payload } = p;
  if (cx == null || cy == null) return <g />;
  const text: string = payload.text;
  if (payload.big) {
    // narrow bold caption (panel g)
    return (
      <text transform={`translate(${cx} ${cy}) scale(0.8 1)`} x={0} y={0} textAnchor="middle" dominantBaseline="central"
        fontFamily="Liberation Sans" fontWeight="bold" fontSize={14} fill="#111">
        {text}
      </text>
    );
  }
  const w = text.length * 5.7 + 3;
  return (
    <g>
      <rect x={cx - w / 2} y={cy - 5.2} width={w} height={10.4} fill="#fff" fillOpacity={0.78} />
      <text x={cx} y={cy} textAnchor="middle" dominantBaseline="central" fontFamily="DejaVu Sans" fontWeight="bold"
        fontSize={7.7} fill="#111">
        {text}
      </text>
    </g>
  );
}

function ellipseOutline([cx, cy, w, h, s]: Ell) {
  const phi = Math.asin(s);
  const out: { x: number; y: number }[] = [];
  for (let i = 0; i <= 160; i++) {
    const t = (i / 160) * Math.PI * 2;
    out.push({ x: cx + w * Math.cos(t), y: cy + h * Math.sin(t + phi) });
  }
  return out;
}

const toXY = (pts: Pt[]) => pts.map(([x, y]) => ({ x, y }));
const f0 = (v: number) => `${v}`;
const f1 = (v: number) => v.toFixed(1);
const f2 = (v: number) => v.toFixed(2);
const fNeg = (v: number) => (v < 0 ? "\u2212" + Math.abs(v).toFixed(1) : v.toFixed(1));

type Panel = {
  id: string;
  plot: [number, number, number, number];
  xDom: [number, number];
  yDom: [number, number];
  xTicks: number[];
  yTicks: number[];
  fx: (v: number) => string;
  fy: (v: number) => string;
  series: [string, Pt[]][];
  ellipses: Ell[];
  labels: Lab[];
};

const PANELS: Panel[] = [
  {
    id: "a", plot: [44, 13, 541, 370], xDom: [65.65, 77.41], yDom: [0.41, 2.265],
    xTicks: [66, 68, 70, 72, 74, 76], yTicks: [0.5, 0.75, 1.0, 1.25, 1.5, 1.75, 2.0, 2.25], fx: f0, fy: f2,
    series: [["pantArch", aPantArch], ["pantGeo", aPantGeo], ["marArch", aMarArch], ["marGeo", aMarGeo], ["palmArch", aPalmArch],
      ["palmGeo", aPalmGeo], ["lipArch", aLipArch], ["lipGeo", aLipGeo], ["lipArchOut", aLipArchOut], ["marArchOut", aMarArchOut],
      ["pantArchOut", aPantArchOut], ["pantGeoOut", aPantGeoOut]],
    ellipses: aEllipses, labels: aLabels,
  },
  {
    id: "b", plot: [689, 15, 540, 370], xDom: [1.905, 6.409], yDom: [-9.66, 163.1],
    xTicks: [2, 3, 4, 5, 6], yTicks: [0, 20, 40, 60, 80, 100, 120, 140, 160], fx: f0, fy: f0,
    series: [["pantArch", bPantArch], ["pantGeo", bPantGeo], ["marArch", bMarArch], ["marGeo", bMarGeo], ["palmArch", bPalmArch],
      ["palmGeo", bPalmGeo], ["lipArch", bLipArch], ["lipGeo", bLipGeo], ["lipArchOut", bLipArchOut], ["lipGeoOut", bLipGeoOut],
      ["marGeoOut", bMarGeoOut], ["pantArchOut", bPantArchOut], ["pantGeoOut", bPantGeoOut]],
    ellipses: bEllipses, labels: bLabels,
  },
  {
    id: "c", plot: [39, 434, 546, 372], xDom: [65.65, 77.41], yDom: [-0.083, 1.548],
    xTicks: [66, 68, 70, 72, 74, 76], yTicks: [0, 0.2, 0.4, 0.6, 0.8, 1.0, 1.2, 1.4], fx: f0, fy: f1,
    series: [["pantArch", cPantArch], ["pantGeo", cPantGeo], ["marArch", cMarArch], ["marGeo", cMarGeo], ["palmArch", cPalmArch],
      ["palmGeo", cPalmGeo], ["lipArch", cLipArch], ["lipGeo", cLipGeo], ["lipArchOut", cLipArchOut], ["marArchOut", cMarArchOut],
      ["pantArchOut", cPantArchOut]],
    ellipses: cEllipses, labels: cLabels,
  },
  {
    id: "d", plot: [674, 434, 550, 371], xDom: [2.308, 8.147], yDom: [4.1, 15.72],
    xTicks: [3, 4, 5, 6, 7, 8], yTicks: [6, 8, 10, 12, 14], fx: f0, fy: f0,
    series: [["pantArch", dPantArch], ["pantGeo", dPantGeo], ["marArch", dMarArch], ["marGeo", dMarGeo], ["palmArch", dPalmArch],
      ["palmGeo", dPalmGeo], ["lipArch", dLipArch], ["lipGeo", dLipGeo], ["lipArchOut", dLipArchOut], ["lipGeoOut", dLipGeoOut],
      ["marArchOut", dMarArchOut], ["pantGeoOut", dPantGeoOut]],
    ellipses: dEllipses, labels: dLabels,
  },
  {
    id: "e", plot: [45, 857, 528, 370], xDom: [0.6497, 1.1425], yDom: [-1.996, -0.866],
    xTicks: [0.7, 0.8, 0.9, 1.0, 1.1], yTicks: [-1.8, -1.6, -1.4, -1.2, -1.0], fx: f1, fy: fNeg,
    series: [["pantArch", ePantArch], ["pantGeo", ePantGeo], ["marArch", eMarArch], ["marGeo", eMarGeo], ["palmArch", ePalmArch],
      ["palmGeo", ePalmGeo], ["lipArch", eLipArch], ["lipGeo", eLipGeo], ["lipArchOut", eLipArchOut], ["lipGeoOut", eLipGeoOut],
      ["marArchOut", eMarArchOut], ["pantArchOut", ePantArchOut]],
    ellipses: eEllipses, labels: [],
  },
  {
    id: "f", plot: [673, 860, 555, 369], xDom: [-0.056, 1.03], yDom: [-0.092, 0.852],
    xTicks: [0, 0.2, 0.4, 0.6, 0.8, 1.0], yTicks: [0, 0.2, 0.4, 0.6, 0.8], fx: f1, fy: f1,
    series: [["pantArch", fPantArch], ["pantGeo", fPantGeo], ["marArch", fMarArch], ["marGeo", fMarGeo], ["palmArch", fPalmArch],
      ["palmGeo", fPalmGeo], ["lipArch", fLipArch], ["lipGeo", fLipGeo], ["lipArchOut", fLipArchOut], ["lipGeoOut", fLipGeoOut],
      ["marArchOut", fMarArchOut], ["marGeoOut", fMarGeoOut], ["pantGeoOut", fPantGeoOut]],
    ellipses: fEllipses, labels: fLabels,
  },
  {
    id: "g", plot: [39, 1292, 545, 369], xDom: [2.268, 8.124], yDom: [-0.092, 0.855],
    xTicks: [3, 4, 5, 6, 7, 8], yTicks: [0, 0.2, 0.4, 0.6, 0.8], fx: f0, fy: f1,
    series: [["pantArch", gPantArch], ["pantGeo", gPantGeo], ["marGeo", gMarGeo], ["palmArch", gPalmArch], ["palmGeo", gPalmGeo],
      ["lipArch", gLipArch], ["lipGeo", gLipGeo], ["lipArchOut", gLipArchOut], ["lipGeoOut", gLipGeoOut],
      ["marArchOut", gMarArchOut], ["marGeoOut", gMarGeoOut], ["mean", gMeans]],
    ellipses: gEllipses, labels: gLabels,
  },
];

// axis titles, panel letters (page coordinates)
const TITLES: { x: number; y: number; text: string; rot?: boolean }[] = [
  { x: 314, y: 400, text: "SiO\u2082 (wt%)" },
  { x: 13.5, y: 197, text: "K\u2082O / Na\u2082O", rot: true },
  { x: 1018, y: 403, text: "\u03c3 = (Na\u2082O + K\u2082O)\u00b2 / (SiO\u2082 \u2212 43)" },
  { x: 662.5, y: 200, text: "\u03c4 = (Al\u2082O\u2083 \u2212 Na\u2082O) / (P\u2082O\u2085 + TiO\u2082)", rot: true },
  { x: 312, y: 823, text: "SiO\u2082 (wt%)" },
  { x: 15, y: 620, text: "CaO (wt%)", rot: true },
  { x: 949, y: 823, text: "Na\u2082O (wt%)" },
  { x: 653.5, y: 620, text: "Al\u2082O\u2083 (wt%)", rot: true },
  { x: 315, y: 1245, text: "log(SiO2/Al2O3)" },
  { x: 14.5, y: 1040, text: "log(CaO/Al2O3)", rot: true },
  { x: 944, y: 1247, text: "CaO / FeOtot" },
  { x: 649.5, y: 1045, text: "Cl (wt%)", rot: true },
  { x: 312, y: 1676, text: "Na\u2082O (wt%)" },
  { x: 14.5, y: 1478, text: "Cl (wt%)", rot: true },
];
const LETTERS: [string, number, number][] = [
  ["a", 62, 37], ["b", 703, 44], ["c", 53, 460], ["d", 683, 463], ["e", 52, 872], ["f", 683, 882], ["g", 46, 1315],
];
const LEGEND_KINDS = ["lipArch", "lipGeo", "marArch", "marGeo", "palmArch", "palmGeo", "pantArch", "pantGeo"];

function PanelChart({ p }: { p: Panel }) {
  const L = 50, T = 5, R = 5, B = 30;
  const [px, py, pw, ph] = p.plot;
  const labelData = p.labels.map(([x, y, text, big]) => ({ x, y, text, big }));
  const tick = { fontSize: 8, fill: "#333", fontFamily: "DejaVu Sans" };
  return (
    <div style={{ position: "absolute", left: px - L, top: py - T }}>
      <ScatterChart width={pw + L + R} height={ph + T + B} margin={{ top: T, right: R, bottom: 0, left: 0 }}>
        <CartesianGrid stroke="#e3e3e3" strokeDasharray="2 2" />
        <XAxis type="number" dataKey="x" domain={p.xDom} ticks={p.xTicks} allowDataOverflow interval={0} height={B}
          tickSize={3} tickMargin={2} tick={tick} tickFormatter={p.fx} axisLine={{ stroke: "#555", strokeWidth: 1.3 }}
          tickLine={{ stroke: "#555" }} />
        <YAxis type="number" dataKey="y" domain={p.yDom} ticks={p.yTicks} allowDataOverflow interval={0} width={L}
          tickSize={3} tickMargin={3} tick={tick} tickFormatter={p.fy} axisLine={{ stroke: "#555", strokeWidth: 1.3 }}
          tickLine={{ stroke: "#555" }} />
        {p.series.map(([kind, pts], i) => (
          <Scatter key={`s${i}`} data={toXY(pts)} shape={markerShape(kind)} isAnimationActive={false} />
        ))}
        {p.ellipses.map((e, i) => (
          <Scatter key={`e${i}`} data={ellipseOutline(e)} line={{ stroke: "#111", strokeWidth: 1.6 }} shape={() => <g />}
            isAnimationActive={false} />
        ))}
        <Scatter data={labelData} shape={labelShape} isAnimationActive={false} />
      </ScatterChart>
    </div>
  );
}

export default function App() {
  return (
    <div style={{ position: "absolute", left: 0, top: 0, width: 1218, height: 1681, overflow: "hidden", background: "#fff" }}>
      {PANELS.map((p) => (
        <PanelChart key={p.id} p={p} />
      ))}
      <svg width={1218} height={1681} style={{ position: "absolute", left: 0, top: 0, pointerEvents: "none" }}>
        {TITLES.map((t, i) => (
          <text key={i} x={t.x} y={t.y} textAnchor="middle" dominantBaseline="central" fontFamily="DejaVu Sans" fontSize={9}
            fill="#333" transform={t.rot ? `rotate(-90 ${t.x} ${t.y})` : undefined}>
            {t.text}
          </text>
        ))}
        {LETTERS.map(([l, x, y]) => (
          <text key={l} x={x} y={y} fontFamily="Liberation Sans" fontWeight="bold" fontSize={34} fill="#000">
            {l}
          </text>
        ))}
        <line x1={115} y1={1279} x2={497} y2={1279} stroke="#f2f2a6" strokeWidth={1.5} />
        {/* legend box */}
        <line x1={803.5} y1={1362} x2={803.5} y2={1681} stroke="#000" strokeWidth={2} />
        <line x1={803} y1={1362.5} x2={1218} y2={1362.5} stroke="#000" strokeWidth={2} />
        <line x1={1217} y1={1362} x2={1217} y2={1681} stroke="#000" strokeWidth={2} />
        <line x1={803} y1={1419} x2={1217} y2={1419} stroke="#000" strokeWidth={1.5} />
        <text x={1010} y={1410} textAnchor="middle" fontFamily="Liberation Sans" fontSize={44} fill="#000">
          LEGEND
        </text>
        {legendLeft.map((name, i) => {
          const y = 1448.5 + i * 30;
          const [shape] = STY[LEGEND_KINDS[i]];
          const geo = i % 2 === 1;
          const out = shape === "diamond" ? (geo ? "#faf1ee" : "#eef1f8") : geo ? "#f4e1dc" : "#dce2ef";
          return (
            <g key={name}>
              {glyph(shape, 824.3, y + 1, geo ? "#ee0e0e" : "#0b12ee", "#111", 1, 1.8)}
              <text x={861.5} y={y + 7} fontFamily="Liberation Sans" fontSize={20} fill="#111">
                {name}
              </text>
              {glyph(shape, 999, y + 2, out, "#555", 1, 1.8)}
              <text x={1036.5} y={y + 7} fontFamily="Liberation Sans" fontSize={20} fill="#111">
                {legendRight[i]}
              </text>
            </g>
          );
        })}
      </svg>
    </div>
  );
}
